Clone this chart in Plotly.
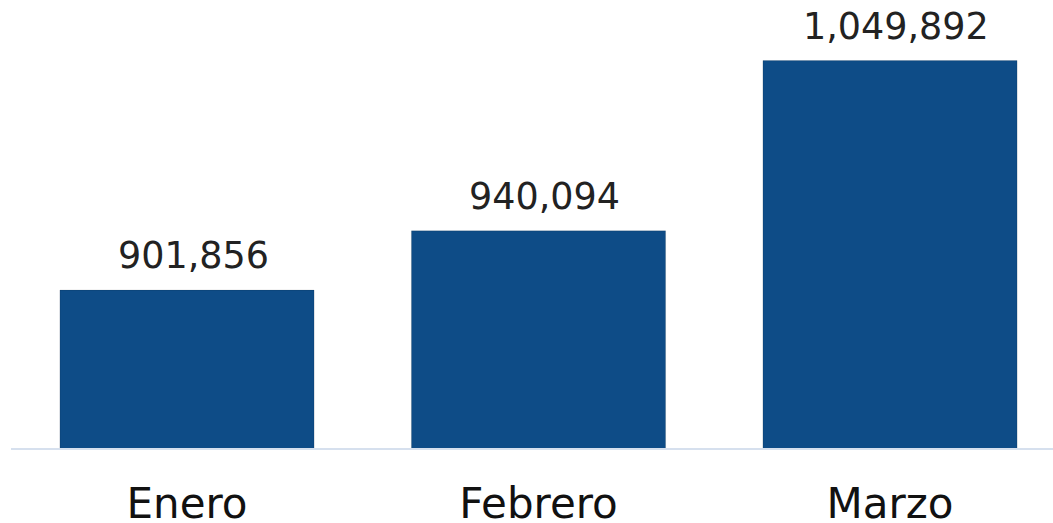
import plotly.graph_objects as go

meses = ["Enero", "Febrero", "Marzo"]
valores = [901856, 940094, 1049892]
etiquetas = [f"{v:,}" for v in valores]

fig = go.Figure()
fig.add_trace(go.Bar(
    x=meses, y=valores,
    marker=dict(color="#0E4C87", line=dict(color="rgba(0,0,0,0.12)", width=1)),
    hoverinfo="x+y",
))

for m, v, t in zip(meses, valores, etiquetas):
    fig.add_annotation(
        x=m, y=v, text=t, showarrow=False,
        yanchor="bottom", yshift=11, xshift=6,
        font=dict(family="DejaVu Sans", size=36.5, color="#222222"),
    )

fig.update_layout(
    width=1053, height=523,
    margin=dict(l=11, r=0, t=0, b=75, autoexpand=False),
    paper_bgcolor="white", plot_bgcolor="white",
    bargap=0.277,
    showlegend=False,
    xaxis=dict(
        range=[-0.5007, 2.4637], automargin=False,
        showline=True, linecolor="#D6E0EE", linewidth=2,
        tickfont=dict(family="DejaVu Sans", size=42, color="#111111"),
        ticks="", showgrid=False, ticklabelstandoff=18,
    ),
    yaxis=dict(
        range=[800000, 1089000], automargin=False,
        visible=False, showgrid=False,
    ),
)

fig.write_html("out.html", config={"displayModeBar": False},
               post_script="document.body.style.margin='0';")
